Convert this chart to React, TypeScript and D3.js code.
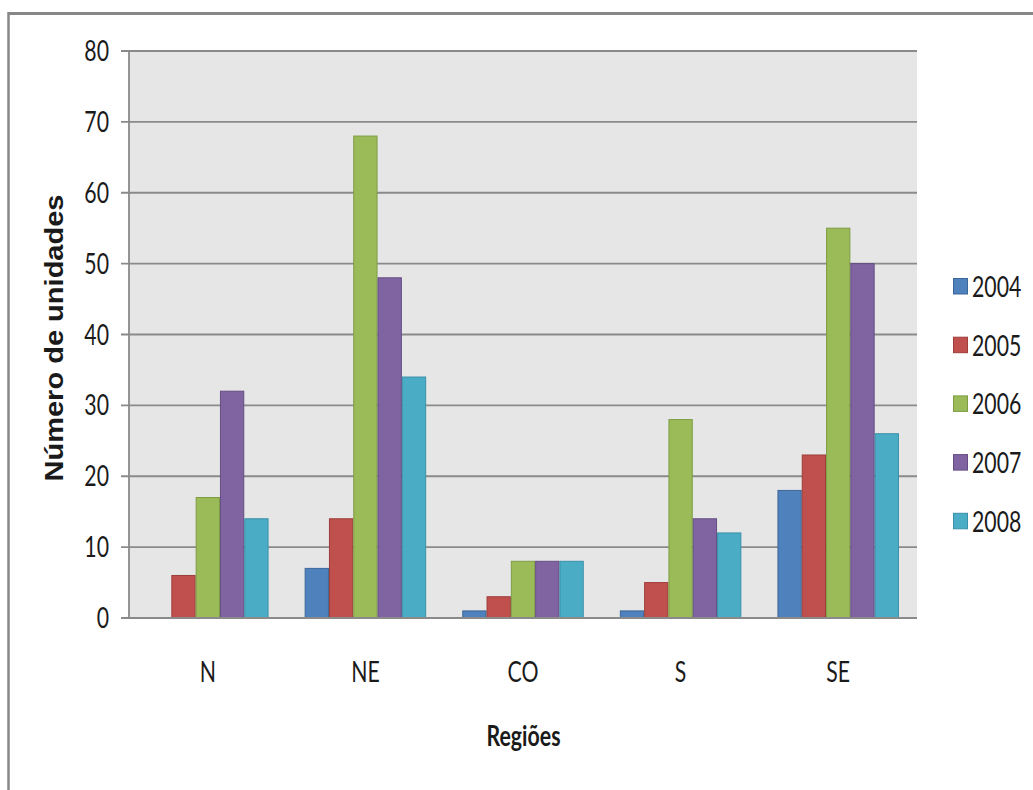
import React from "react";
import * as d3 from "d3";

const categories = ["N", "NE", "CO", "S", "SE"];
const years = ["2004", "2005", "2006", "2007", "2008"];
const v2004 = [0, 7, 1, 1, 18];
const v2005 = [6, 14, 3, 5, 23];
const v2006 = [17, 68, 8, 28, 55];
const v2007 = [32, 48, 8, 14, 50];
const v2008 = [14, 34, 8, 12, 26];
const yTicks = [0, 10, 20, 30, 40, 50, 60, 70, 80];
const fills = ["#4F81BD", "#C0504D", "#9BBB59", "#8064A2", "#4BACC6"];
const strokes = ["#3B6798", "#9E3D3A", "#7E9D43", "#644D83", "#3990A8"];

const series = [v2004, v2005, v2006, v2007, v2008];

const W = 1033;
const H = 790;
const plot = { left: 129, right: 917, top: 51, bottom: 618 };
const FONT = "Lato, 'Liberation Sans', Arial, sans-serif";
const TITLE_FONT = "'Liberation Sans', Arial, sans-serif";
const SX = 0.76;

export default function App() {
  const y = d3.scaleLinear().domain([0, 80]).range([plot.bottom, plot.top]);
  const x0 = d3.scaleBand<string>().domain(categories).range([plot.left, plot.right]).padding(0);
  const bw = x0.bandwidth();
  const gap = bw * 0.229;
  const x1 = d3.scaleBand<string>().domain(years).range([gap / 2, bw - gap / 2]).padding(0);

  return (
    <svg
      width={W}
      height={H}
      style={{ position: "absolute", left: 0, top: 0, background: "#fff" }}
    >
      {/* outer frame */}
      <line x1={8} x2={W} y1={13.5} y2={13.5} stroke="#878787" strokeWidth={3} />
      <line x1={8.5} x2={8.5} y1={12} y2={H} stroke="#878787" strokeWidth={2.5} />

      {/* plot background */}
      <rect
        x={plot.left}
        y={plot.top}
        width={plot.right - plot.left}
        height={plot.bottom - plot.top}
        fill="#E6E6E6"
      />
      {/* gridlines + ticks */}
      {yTicks.map((t) => (
        <g key={t}>
          <line
            x1={plot.left - 8}
            x2={plot.right}
            y1={y(t)}
            y2={y(t)}
            stroke="#8A8A8A"
            strokeWidth={1.8}
          />
          <g transform={`translate(109,${y(t) + 10}) scale(${SX},1)`}>
            <text textAnchor="end" fontFamily={FONT} fontSize={28} fill="#1a1a1a">
              {t}
            </text>
          </g>
        </g>
      ))}
      <line x1={plot.left} x2={plot.left} y1={plot.top} y2={plot.bottom} stroke="#8A8A8A" strokeWidth={1.8} />

      {/* bars */}
      {categories.map((c, ci) => (
        <g key={c} transform={`translate(${x0(c)},0)`}>
          {years.map((yr, si) => {
            const v = series[si][ci];
            if (v <= 0) return null;
            return (
              <rect
                key={yr}
                x={(x1(yr) as number) + 0.5}
                y={y(v)}
                width={x1.bandwidth() - 1}
                height={y(0) - y(v)}
                fill={fills[si]}
                stroke={strokes[si]}
                strokeWidth={1}
              />
            );
          })}
        </g>
      ))}
      <line x1={plot.left - 8} x2={plot.right} y1={plot.bottom} y2={plot.bottom} stroke="#8A8A8A" strokeWidth={1.8} />

      {/* x labels */}
      {categories.map((c) => (
        <g key={c} transform={`translate(${(x0(c) as number) + bw / 2},682) scale(${SX},1)`}>
          <text textAnchor="middle" fontFamily={FONT} fontSize={28} fill="#1a1a1a">
            {c}
          </text>
        </g>
      ))}

      {/* axis titles */}
      <text
        x={523.5}
        y={746}
        textAnchor="middle"
        fontFamily={FONT}
        fontWeight="bold"
        fontSize={28}
        textLength={74}
        lengthAdjust="spacingAndGlyphs"
        fill="#1a1a1a"
      >
        Regiões
      </text>
      <text
        transform="translate(63,338) rotate(-90)"
        textAnchor="middle"
        fontFamily={TITLE_FONT}
        fontWeight="bold"
        fontSize={26}
        textLength={287}
        lengthAdjust="spacingAndGlyphs"
        fill="#1a1a1a"
      >
        Número de unidades
      </text>

      {/* legend */}
      {years.map((yr, i) => {
        const base = 297 + i * 58.7;
        return (
          <g key={yr}>
            <rect x={953.5} y={base - 18.5} width={14} height={15.5} fill={fills[i]} stroke={strokes[i]} strokeWidth={1} />
            <g transform={`translate(972,${base}) scale(${SX},1)`}>
              <text fontFamily={FONT} fontSize={28} fill="#1a1a1a">
                {yr}
              </text>
            </g>
          </g>
        );
      })}
    </svg>
  );
}
